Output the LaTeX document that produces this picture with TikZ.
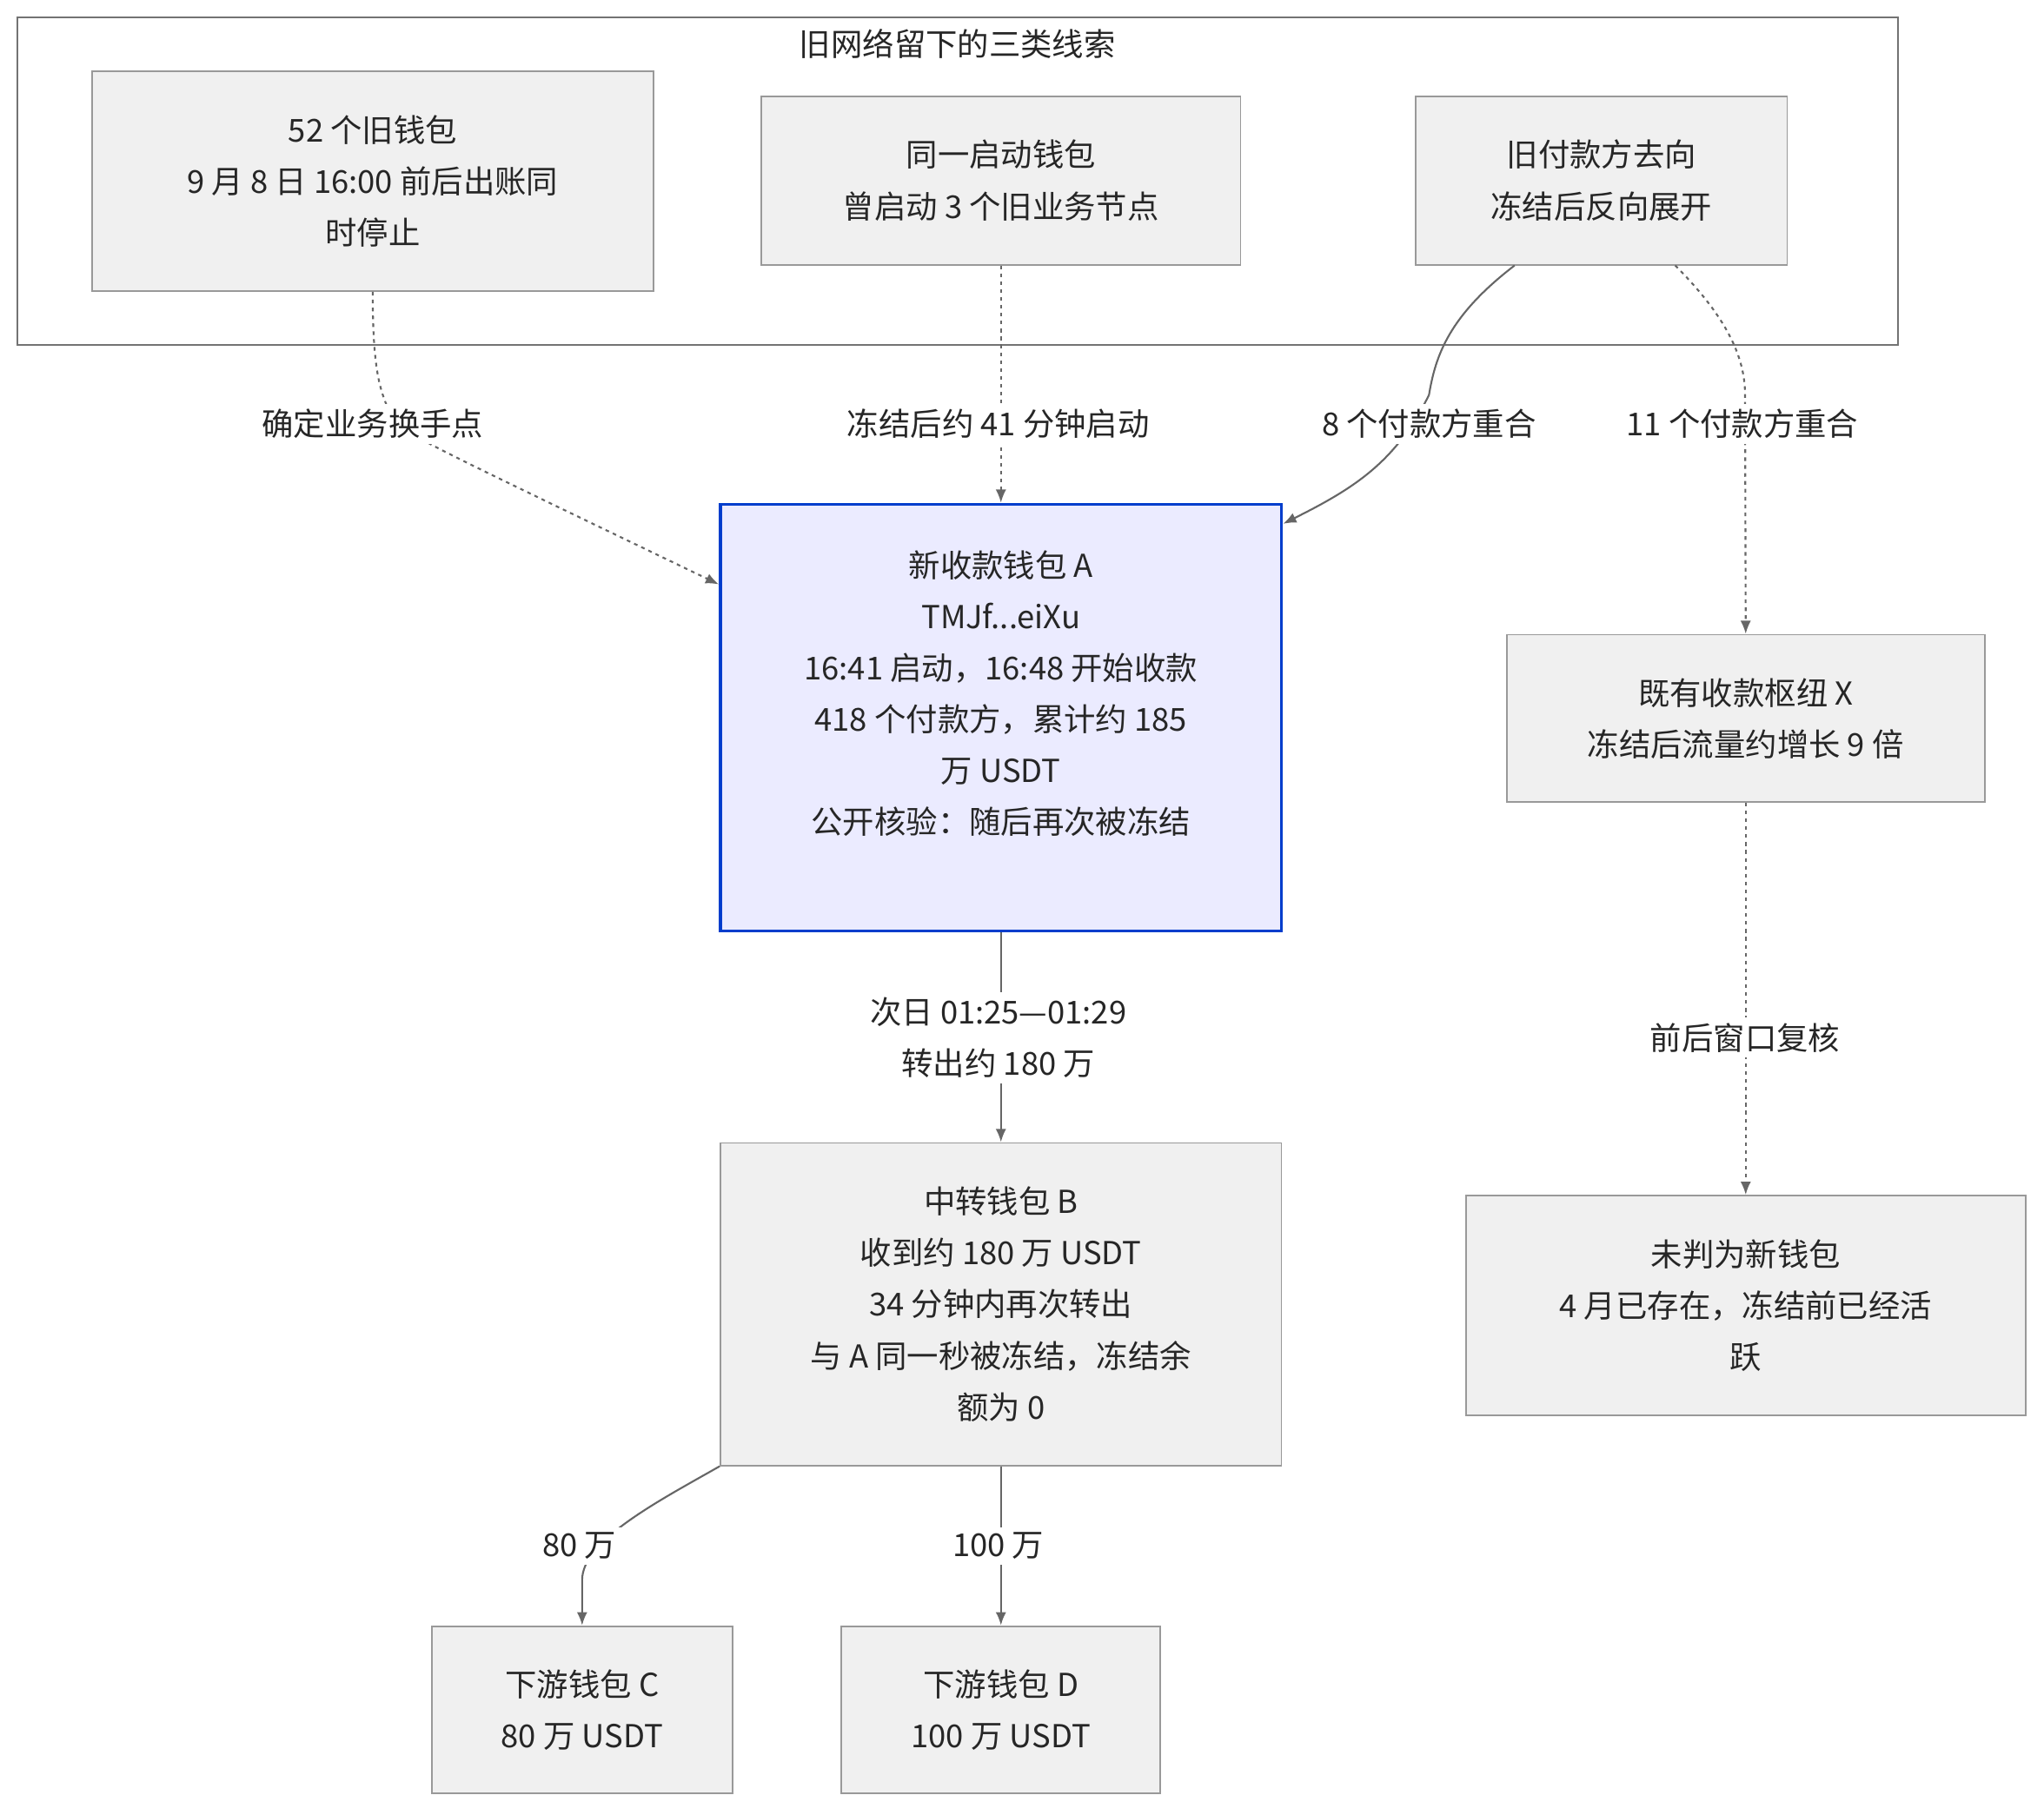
\documentclass[tikz,border=0pt]{standalone}
\usepackage{fontspec}
\setmainfont{Noto Sans CJK SC}
\usetikzlibrary{arrows.meta}
\begin{document}
\begin{tikzpicture}[x=0.5pt,y=-0.5pt,
  every node/.style={font=\fontsize{12pt}{19.5pt}\selectfont, text=black!85},
  box/.style={draw=black!40, fill=black!6, line width=0.6pt, align=center, inner sep=0pt},
  lab/.style={fill=white, inner sep=2pt, align=center},
  ln/.style={draw=black!60, line width=0.7pt, -{Latex[length=5pt,width=4pt]}},
  dt/.style={ln, dash pattern=on 1.4pt off 1.6pt}]
\useasboundingbox (0,0) rectangle (1552,1378);
\node[draw=black!55, line width=0.6pt, minimum width=714pt, minimum height=124.5pt, inner sep=0pt] (grp) at (727,137.5) {};
\node (gt) at (727,33) {旧网络留下的三类线索};
\node[box, minimum width=213pt, minimum height=83.5pt] (n1) at (283,137.5) {52 个旧钱包\\9 月 8 日 16:00 前后出账同\\时停止};
\node[box, minimum width=182pt, minimum height=64pt] (n2) at (760,137) {同一启动钱包\\曾启动 3 个旧业务节点};
\node[box, minimum width=141pt, minimum height=64pt] (n3) at (1216,137) {旧付款方去向\\冻结后反向展开};
\node[box, draw=blue!70!cyan!80!black, fill=blue!8, line width=1.2pt, minimum width=213pt, minimum height=162pt] (A) at (760,545) {新收款钱包 A\\TMJf...eiXu\\16:41 启动，16:48 开始收款\\418 个付款方，累计约 185\\万 USDT\\\textit{公开核验：随后再次被冻结}\\\mbox{}};
\node[box, minimum width=181.5pt, minimum height=63.5pt] (X) at (1325.5,545.5) {既有收款枢纽 X\\冻结后流量约增长 9 倍};
\node[box, minimum width=212.5pt, minimum height=83.5pt] (W) at (1325.5,991.5) {未判为新钱包\\4 月已存在，冻结前已经活\\跃};
\node[box, minimum width=213pt, minimum height=122.5pt] (B) at (760,990.5) {中转钱包 B\\收到约 180 万 USDT\\34 分钟内再次转出\\\textit{与 A 同一秒被冻结，冻结余}\\\textit{额为 0}};
\node[box, minimum width=114pt, minimum height=63.5pt] (C) at (442,1298.5) {下游钱包 C\\80 万 USDT};
\node[box, minimum width=121pt, minimum height=63.5pt] (D) at (760,1298.5) {下游钱包 D\\100 万 USDT};
% edges
\draw[dt] (n1.south) .. controls (283,290) and (290,300) .. (300,322) .. controls (330,340) .. ([yshift=-31pt]A.north west);
\draw[dt] (n2.south) -- (A.north);
\draw[ln] ([xshift=-33pt]n3.south) .. controls (1100,240) and (1090,270) .. (1085,300) .. controls (1060,350) and (1030,370) .. ([yshift=-8pt]A.north east);
\draw[dt] ([xshift=28pt]n3.south) .. controls (1310,240) and (1325,270) .. (1325,300) -- (X.north);
\draw[ln] (A.south) -- (B.north);
\draw[dt] (X.south) -- (W.north);
\draw[ln] (B.south west) .. controls (500,1140) and (442,1170) .. (442,1200) -- (C.north);
\draw[ln] (B.south) -- (D.north);
% labels
\node[lab] (l1) at (283,322) {确定业务换手点};
\node[lab] (l2) at (758,322) {冻结后约 41 分钟启动};
\node[lab] (l3) at (1085,322) {8 个付款方重合};
\node[lab] (l4) at (1323,322) {11 个付款方重合};
\node[lab] (l5) at (758,788) {次日 01:25—01:29\\转出约 180 万};
\node[lab] (l6) at (1325,788) {前后窗口复核};
\node[lab] (l7) at (440,1174) {80 万};
\node[lab] (l8) at (758,1174) {100 万};
\end{tikzpicture}
\end{document}
